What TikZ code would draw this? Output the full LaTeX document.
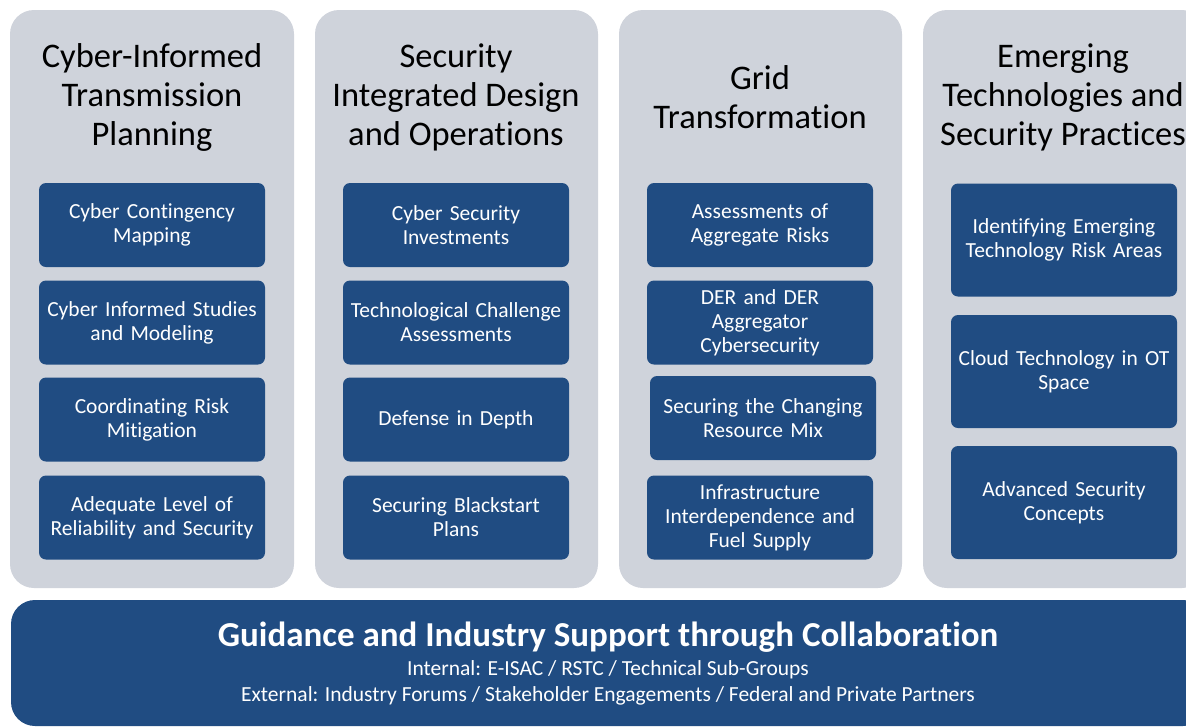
\documentclass[tikz,border=0pt]{standalone}
\usepackage{fontspec}
\setmainfont[Ligatures=NoCommon]{Carlito}
\usetikzlibrary{positioning}
\definecolor{panelgray}{RGB}{207,211,219}
\definecolor{boxblue}{RGB}{32,76,130}

\begin{document}
\begin{tikzpicture}[x=1pt, y=-1pt,
  panel/.style={fill=panelgray, draw=none, rounded corners=24pt},
  heading/.style={text=black, align=center, font=\fontsize{34.5}{39}\selectfont},
  topic/.style={rectangle, fill=boxblue, rounded corners=7pt, text=white, inner sep=0pt,
    minimum width=226pt, minimum height=84pt, text width=222pt, align=center,
    font=\fontsize{21.5}{24}\selectfont},
  bigtopic/.style={topic, minimum height=113pt}]

\useasboundingbox (0,0) rectangle (1186,726);
\clip (0,0) rectangle (1186,726);

% PANELS
\node[panel, minimum width=284pt, minimum height=578pt] (panelPlan) at (152,299) {};
\node[panel, minimum width=283pt, minimum height=578pt] (panelDesign) at (456.5,299) {};
\node[panel, minimum width=283pt, minimum height=578pt] (panelGrid) at (760.5,299) {};
\node[panel, minimum width=283pt, minimum height=578pt] (panelEmerging) at (1064.5,299) {};

% PANEL HEADINGS
\node[heading] (headPlan) at (152,97) {Cyber-Informed\\Transmission\\Planning};
\node[heading] (headDesign) at (456,97) {Security\\Integrated Design\\and Operations};
\node[heading] (headGrid) at (760,97) {Grid\\Transformation};
\node[heading] (headEmerging) at (1063,97) {Emerging\\Technologies and\\Security Practices};

% TOPICS - TRANSMISSION PLANNING
\node[topic] (contingency) at (152,225) {Cyber Contingency\\Mapping};
\node[topic] (studies) at (152,322.5) {Cyber Informed Studies\\and Modeling};
\node[topic] (mitigation) at (152,419.5) {Coordinating Risk\\Mitigation};
\node[topic] (reliability) at (152,517.5) {Adequate Level of\\Reliability and Security};

% TOPICS - DESIGN AND OPERATIONS
\node[topic] (investments) at (456,225) {Cyber Security\\Investments};
\node[topic] (challenge) at (456,322.5) {Technological Challenge\\Assessments};
\node[topic] (depth) at (456,419.5) {Defense in Depth};
\node[topic] (blackstart) at (456,517.5) {Securing Blackstart\\Plans};

% TOPICS - GRID TRANSFORMATION
\node[topic] (aggregate) at (760,225) {Assessments of\\Aggregate Risks};
\node[topic] (der) at (760,322.5) {DER and DER\\Aggregator\\Cybersecurity};
\node[topic] (resourceMix) at (763,418) {Securing the Changing\\Resource Mix};
\node[topic] (fuel) at (760,517.5) {Infrastructure\\Interdependence and\\Fuel Supply};

% TOPICS - EMERGING TECHNOLOGIES
\node[bigtopic] (riskAreas) at (1064,240) {Identifying Emerging\\Technology Risk Areas};
\node[bigtopic] (cloud) at (1064,371.5) {Cloud Technology in OT\\Space};
\node[bigtopic] (advanced) at (1064,502.5) {Advanced Security\\Concepts};

% COLLABORATION BANNER
\node[fill=boxblue, rounded corners=24pt, minimum width=1196pt, minimum height=126pt] (banner) at (609,663) {};
\node[text=white, font=\fontsize{35}{40}\bfseries\selectfont] (bannerTitle) at (608,637) {Guidance and Industry Support through Collaboration};
\node[text=white, font=\fontsize{21.5}{24}\selectfont] (bannerInternal) at (608,670) {Internal: E-ISAC / RSTC / Technical Sub-Groups};
\node[text=white, font=\fontsize{21.5}{24}\selectfont] (bannerExternal) at (608,696) {External: Industry Forums / Stakeholder Engagements / Federal and Private Partners};

\end{tikzpicture}
\end{document}
